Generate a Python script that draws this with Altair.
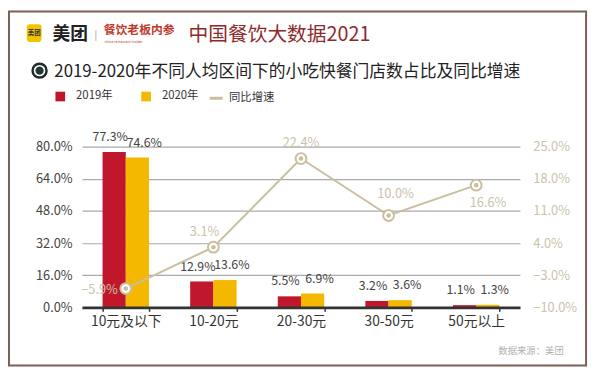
import altair as alt
import pandas as pd

# ---------------- data ----------------
categories = ["10元及以下", "10-20元", "20-30元", "30-50元", "50元以上"]
years = ["2019年", "2020年"]
share_2019 = [77.3, 12.9, 5.5, 3.2, 1.1]
share_2020 = [74.6, 13.6, 6.9, 3.6, 1.3]
growth = [-5.9, 3.1, 22.4, 10.0, 16.6]
growth_name = "同比增速"
left_ticks = [0, 16, 32, 48, 64, 80]
right_ticks = [-10, -3, 4, 11, 18, 25]

brand_text = "美团"
partner_text = "餐饮老板内参"
partner_sub = "china restaurant insider"
headline_text = "中国餐饮大数据2021"
title_text = "2019-2020年不同人均区间下的小吃快餐门店数占比及同比增速"
footer_text = "数据来源：美团"

# ---------------- style ----------------
RED = "#c1172c"
YELLOW = "#f5b800"
BEIGE = "#c9be9f"
BEIGE_TXT = "#cbc2ab"
FONT = "Noto Sans CJK SC"

bars_df = pd.DataFrame({
    "cat": categories * 2,
    "year": [years[0]] * len(categories) + [years[1]] * len(categories),
    "value": share_2019 + share_2020,
})
line_df = pd.DataFrame({"cat": categories, "growth": growth,
                        "series": [growth_name] * len(categories)})
one = pd.DataFrame({"k": [0]})

x_scale = alt.Scale(domain=categories, paddingInner=0.47, paddingOuter=0.235)
x_axis = alt.Axis(title=None, labelAngle=0, labelFontSize=14, labelColor="#333",
                  labelFont=FONT, labelPadding=3, domainColor="#333", domainWidth=3,
                  tickColor="#333", tickSize=4, tickWidth=1.5, tickBand="extent",
                  grid=False, zindex=1)
X = alt.X("cat:N", scale=x_scale, axis=x_axis)
XO = alt.XOffset("year:N", scale=alt.Scale(domain=years, paddingInner=0, paddingOuter=0))

left_axis = alt.Axis(title=None, values=left_ticks,
                     labelExpr="format(datum.value, '.1f') + '%'",
                     labelFontSize=13, labelColor="#444", labelFont=FONT,
                     labelPadding=10, domain=False, ticks=False, grid=True,
                     gridColor="#aaaaaa", gridWidth=1.2)
right_axis = alt.Axis(title=None, orient="right", values=right_ticks,
                      labelExpr="format(datum.value, '.1f') + '%'",
                      labelFontSize=13, labelColor=BEIGE_TXT, labelFont=FONT,
                      labelPadding=13, domain=False, ticks=False, grid=False)
YL = alt.Y("value:Q", scale=alt.Scale(domain=[0, 80], nice=False), axis=left_axis)
YR = alt.Y("growth:Q", scale=alt.Scale(domain=[-10, 25], nice=False, zero=False), axis=right_axis)

bars = alt.Chart(bars_df).mark_bar().encode(
    x=X, xOffset=XO, y=YL,
    color=alt.Color("year:N", scale=alt.Scale(domain=years, range=[RED, YELLOW]),
                    legend=alt.Legend(title=None, orient="none", legendX=-28, legendY=-57,
                                      direction="horizontal", symbolType="square",
                                      symbolSize=96, labelFontSize=11.5, labelColor="#333",
                                      labelFont=FONT, columnPadding=27, labelOffset=10)),
)


def bar_labels(year, dx):
    return alt.Chart(bars_df).transform_filter(
        alt.datum.year == year
    ).transform_calculate(
        label="format(datum.value, '.1f') + '%'"
    ).mark_text(dx=dx, dy=-8, baseline="bottom", fontSize=12.5, color="#444",
                font=FONT).encode(x=X, xOffset=XO, y=YL, text="label:N")


left_layer = alt.layer(bars, bar_labels(years[0], -4), bar_labels(years[1], 7))

line = alt.Chart(line_df).mark_line(strokeWidth=2).encode(
    x=X, y=YR,
    color=alt.Color("series:N", scale=alt.Scale(domain=[growth_name], range=[BEIGE]),
                    legend=alt.Legend(title=None, orient="none", legendX=128, legendY=-57,
                                      symbolType="stroke", symbolSize=169,
                                      symbolStrokeWidth=3, labelFontSize=11.5,
                                      labelColor="#333", labelFont=FONT, labelOffset=5)),
)
rings = alt.Chart(line_df).mark_circle(size=120, fill="white", stroke=BEIGE,
                                       strokeWidth=2, opacity=1).encode(x=X, y=YR)
dots = alt.Chart(line_df).mark_circle(size=22, color=BEIGE, opacity=1).encode(x=X, y=YR)

label_styles = [
    dict(dx=-8, dy=2, align="right"),
    dict(dx=-9, dy=-15, align="center"),
    dict(dx=0, dy=-16, align="center"),
    dict(dx=7, dy=-22, align="center"),
    dict(dx=12, dy=18, align="center"),
]
line_labels = []
for c, st in zip(categories, label_styles):
    line_labels.append(
        alt.Chart(line_df).transform_filter(alt.datum.cat == c).transform_calculate(
            label="format(datum.growth, '.1f') + '%'"
        ).mark_text(baseline="middle", fontSize=13, color=BEIGE_TXT, font=FONT, **st)
        .encode(x=X, y=YR, text="label:N")
    )

right_layer = alt.layer(line, rings, dots, *line_labels)

# ---------------- decorations ----------------
border = alt.Chart(one).mark_rect(fillOpacity=0, stroke="#7d5f58", strokeWidth=2).encode(
    x=alt.value(-74), x2=alt.value(511), y=alt.value(-137), y2=alt.value(222))
logo_box = alt.Chart(one).mark_rect(color="#f3c300", cornerRadius=3).encode(
    x=alt.value(-56), x2=alt.value(-41), y=alt.value(-124), y2=alt.value(-106))
logo_txt = alt.Chart(one).mark_text(fontSize=6.5, fontWeight="bold", color="#333",
                                    font=FONT, baseline="middle").encode(
    x=alt.value(-48.5), y=alt.value(-115), text=alt.value(brand_text))
brand = alt.Chart(one).mark_text(fontSize=18, fontWeight="bold", color="#222", font=FONT,
                                 align="left", baseline="middle").encode(
    x=alt.value(-30), y=alt.value(-113), text=alt.value(brand_text))
sep = alt.Chart(one).mark_text(fontSize=10, color="#999", font=FONT, baseline="middle").encode(
    x=alt.value(14), y=alt.value(-113), text=alt.value("|"))
partner = alt.Chart(one).mark_text(fontSize=12, fontWeight="bold", color="#c0392b", font=FONT,
                                   align="left", baseline="middle").encode(
    x=alt.value(22), y=alt.value(-118), text=alt.value(partner_text))
partner2 = alt.Chart(one).mark_text(fontSize=3.5, color="#c0392b", font=FONT,
                                    align="left", baseline="middle").encode(
    x=alt.value(23), y=alt.value(-106), text=alt.value(partner_sub))
headline = alt.Chart(one).mark_text(fontSize=20, color="#8c2b2b", font=FONT,
                                    align="left", baseline="middle").encode(
    x=alt.value(108), y=alt.value(-113), text=alt.value(headline_text))
icon_ring = alt.Chart(one).mark_point(shape="circle", size=200, filled=False,
                                      stroke="#1f2a2a", strokeWidth=2.5, opacity=1).encode(
    x=alt.value(-43), y=alt.value(-77))
icon_dot = alt.Chart(one).mark_circle(size=70, color="#263535", opacity=1).encode(
    x=alt.value(-43), y=alt.value(-77))
title = alt.Chart(one).mark_text(fontSize=17, color="#222", font=FONT,
                                 align="left", baseline="middle").encode(
    x=alt.value(-28), y=alt.value(-76), text=alt.value(title_text))
footer = alt.Chart(one).mark_text(fontSize=9.5, color="#b0b0b0", font=FONT,
                                  align="left", baseline="middle").encode(
    x=alt.value(422), y=alt.value(207), text=alt.value(footer_text))

deco = alt.layer(border, logo_box, logo_txt, brand, sep, partner, partner2, headline,
                 icon_ring, icon_dot, title, footer)

chart = alt.layer(left_layer, right_layer, deco).resolve_scale(
    y="independent", color="independent"
).properties(
    width=444, height=163,
    padding={"left": 75, "top": 138, "right": 73, "bottom": 62},
    autosize=alt.AutoSizeParams(type="none"),
    background="white",
).configure_view(stroke="transparent")

chart.save("out.html", embed_options={"renderer": "svg", "actions": False})
